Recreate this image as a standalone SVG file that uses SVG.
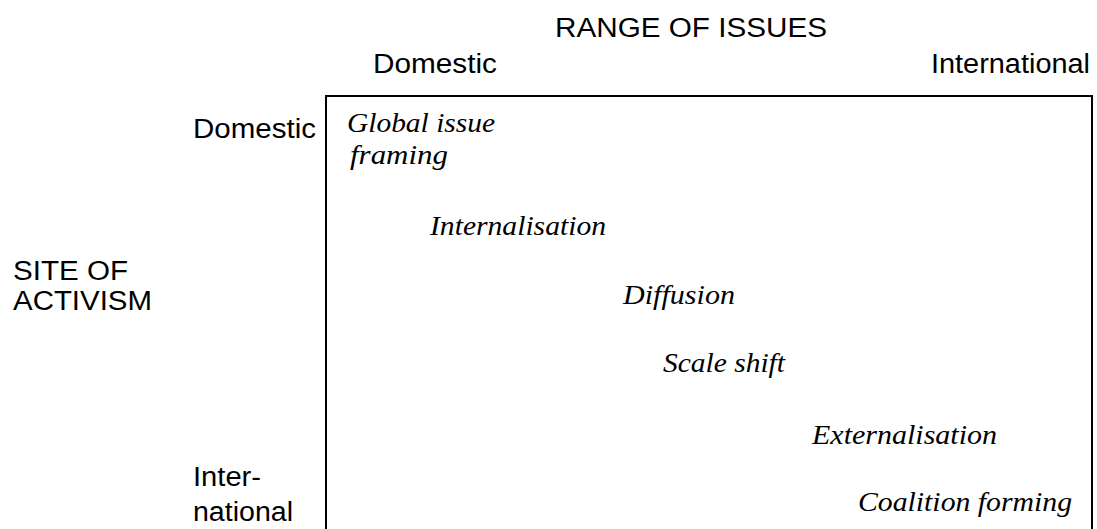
<svg xmlns="http://www.w3.org/2000/svg" width="1097" height="529" viewBox="0 0 1097 529">
<style>
.s{font-family:"Liberation Sans",Arial,sans-serif;font-size:27px;fill:#000}
.i{font-family:"Liberation Serif","Times New Roman",serif;font-style:italic;font-size:28px;fill:#000}
</style>
<rect width="1097" height="529" fill="#fff"/>
<g id="frame"><path d="M326,535 V96 H1092 V535" fill="none" stroke="#000" stroke-width="2"/></g>
<g id="axis-labels">
<text class="s" x="555" y="37" textLength="272" lengthAdjust="spacingAndGlyphs">RANGE OF ISSUES</text>
<text class="s" x="373" y="73" textLength="124" lengthAdjust="spacingAndGlyphs">Domestic</text>
<text class="s" x="931" y="73" textLength="159" lengthAdjust="spacingAndGlyphs">International</text>
<text class="s" x="193" y="138" textLength="123" lengthAdjust="spacingAndGlyphs">Domestic</text>
<text class="s" x="13" y="280" textLength="115" lengthAdjust="spacingAndGlyphs">SITE OF</text>
<text class="s" x="13" y="310" textLength="139" lengthAdjust="spacingAndGlyphs">ACTIVISM</text>
<text class="s" x="193" y="486" textLength="68" lengthAdjust="spacingAndGlyphs">Inter-</text>
<text class="s" x="193" y="521" textLength="100" lengthAdjust="spacingAndGlyphs">national</text>
</g>
<g id="n1"><text class="i" x="347" y="132" textLength="148" lengthAdjust="spacingAndGlyphs">Global issue</text>
<text class="i" x="350" y="164" textLength="98" lengthAdjust="spacingAndGlyphs">framing</text></g>
<g id="n2"><text class="i" x="430" y="235" textLength="176" lengthAdjust="spacingAndGlyphs">Internalisation</text></g>
<g id="n3"><text class="i" x="623" y="304" textLength="112" lengthAdjust="spacingAndGlyphs">Diffusion</text></g>
<g id="n4"><text class="i" x="663" y="372" textLength="122" lengthAdjust="spacingAndGlyphs">Scale shift</text></g>
<g id="n5"><text class="i" x="812" y="444" textLength="185" lengthAdjust="spacingAndGlyphs">Externalisation</text></g>
<g id="n6"><text class="i" x="858" y="511" textLength="214" lengthAdjust="spacingAndGlyphs">Coalition forming</text></g>
<g id="connectors"></g>
</svg>
